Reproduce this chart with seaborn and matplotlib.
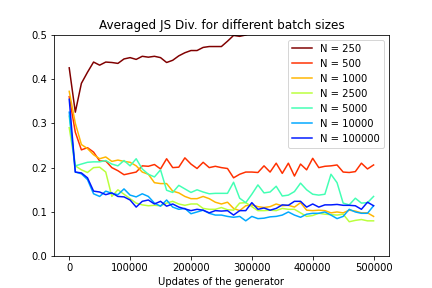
import numpy as np
import pandas as pd
import matplotlib
matplotlib.use('Agg')
import matplotlib.pyplot as plt
import seaborn as sns

# updates of the generator, every 10000 steps
updates = np.arange(0, 500001, 10000)

batch_labels = ['N = 250', 'N = 500', 'N = 1000', 'N = 2500',
                'N = 5000', 'N = 10000', 'N = 100000']

# averaged JS divergence (N=250 leaves the plot above 0.5)
js_250 = [0.425, 0.325, 0.39, 0.415, 0.438, 0.431, 0.438, 0.437, 0.435, 0.445,
          0.448, 0.444, 0.451, 0.449, 0.451, 0.448, 0.437, 0.442, 0.452, 0.459,
          0.464, 0.464, 0.471, 0.473, 0.473, 0.473, 0.485, 0.498, 0.496, 0.499,
          0.505, 0.52, 0.53, 0.53, 0.54, 0.54, 0.55, 0.55, 0.55, 0.56,
          0.56, 0.56, 0.57, 0.57, 0.57, 0.58, 0.58, 0.58, 0.58, 0.59, 0.59]
js_500 = [0.36, 0.28, 0.24, 0.245, 0.235, 0.215, 0.215, 0.2, 0.193, 0.184,
          0.187, 0.19, 0.204, 0.203, 0.207, 0.197, 0.22, 0.2, 0.201, 0.222,
          0.208, 0.198, 0.212, 0.2, 0.203, 0.2, 0.198, 0.177, 0.185, 0.19,
          0.19, 0.189, 0.204, 0.19, 0.21, 0.187, 0.21, 0.181, 0.208, 0.195,
          0.221, 0.2, 0.203, 0.204, 0.206, 0.19, 0.189, 0.191, 0.21, 0.197, 0.206]
js_1000 = [0.372, 0.30, 0.252, 0.243, 0.229, 0.22, 0.224, 0.214, 0.217, 0.214,
           0.212, 0.204, 0.19, 0.185, 0.166, 0.164, 0.164, 0.147, 0.143, 0.135,
           0.13, 0.13, 0.135, 0.13, 0.122, 0.118, 0.122, 0.108, 0.103, 0.114,
           0.116, 0.112, 0.11, 0.112, 0.118, 0.114, 0.115, 0.111, 0.121, 0.104,
           0.103, 0.104, 0.103, 0.098, 0.1, 0.098, 0.104, 0.102, 0.098, 0.098, 0.09]
js_2500 = [0.29, 0.204, 0.195, 0.189, 0.2, 0.201, 0.19, 0.135, 0.15, 0.14,
           0.13, 0.12, 0.116, 0.114, 0.115, 0.114, 0.12, 0.124, 0.118, 0.115,
           0.118, 0.118, 0.108, 0.106, 0.106, 0.11, 0.105, 0.104, 0.12, 0.121,
           0.112, 0.103, 0.103, 0.104, 0.103, 0.108, 0.106, 0.106, 0.098, 0.09,
           0.092, 0.097, 0.095, 0.094, 0.093, 0.095, 0.078, 0.081, 0.083, 0.08, 0.08]
js_5000 = [0.316, 0.204, 0.208, 0.212, 0.213, 0.213, 0.216, 0.208, 0.204, 0.216,
           0.204, 0.22, 0.197, 0.185, 0.179, 0.195, 0.149, 0.144, 0.16, 0.152,
           0.144, 0.15, 0.145, 0.141, 0.142, 0.142, 0.142, 0.167, 0.131, 0.121,
           0.14, 0.161, 0.143, 0.145, 0.158, 0.136, 0.138, 0.146, 0.165, 0.15,
           0.14, 0.138, 0.14, 0.185, 0.166, 0.12, 0.116, 0.131, 0.12, 0.121, 0.135]
js_10000 = [0.325, 0.19, 0.186, 0.173, 0.141, 0.135, 0.147, 0.142, 0.139, 0.152,
            0.138, 0.134, 0.141, 0.135, 0.12, 0.113, 0.127, 0.111, 0.106, 0.108,
            0.096, 0.1, 0.104, 0.097, 0.093, 0.093, 0.09, 0.088, 0.09, 0.08,
            0.09, 0.085, 0.086, 0.089, 0.09, 0.093, 0.1, 0.093, 0.088, 0.095,
            0.097, 0.097, 0.1, 0.093, 0.085, 0.09, 0.106, 0.1, 0.097, 0.097, 0.114]
js_100000 = [0.354, 0.19, 0.188, 0.177, 0.147, 0.145, 0.139, 0.143, 0.135, 0.134,
             0.127, 0.111, 0.124, 0.127, 0.118, 0.124, 0.113, 0.118, 0.111, 0.107,
             0.103, 0.106, 0.104, 0.098, 0.103, 0.102, 0.103, 0.093, 0.103, 0.103,
             0.121, 0.106, 0.109, 0.104, 0.108, 0.116, 0.115, 0.124, 0.124, 0.111,
             0.118, 0.111, 0.116, 0.116, 0.117, 0.115, 0.115, 0.114, 0.106, 0.122, 0.114]

series = [js_250, js_500, js_1000, js_2500, js_5000, js_10000, js_100000]

df = pd.concat([pd.DataFrame({'updates': updates, 'js': s, 'batch': lab})
                for lab, s in zip(batch_labels, series)], ignore_index=True)

colors = plt.cm.jet(np.linspace(1, 0.15, len(batch_labels)))

fig, ax = plt.subplots(figsize=(6, 4), dpi=72)
sns.lineplot(data=df, x='updates', y='js', hue='batch', hue_order=batch_labels,
             palette=list(colors), linewidth=1.5, ax=ax)
ax.set_ylim(0, 0.5)
ax.set_title('Averaged JS Div. for different batch sizes')
ax.set_xlabel('Updates of the generator')
ax.set_ylabel('')
ax.legend(loc='upper right')
fig.savefig('out.png', dpi=72)
